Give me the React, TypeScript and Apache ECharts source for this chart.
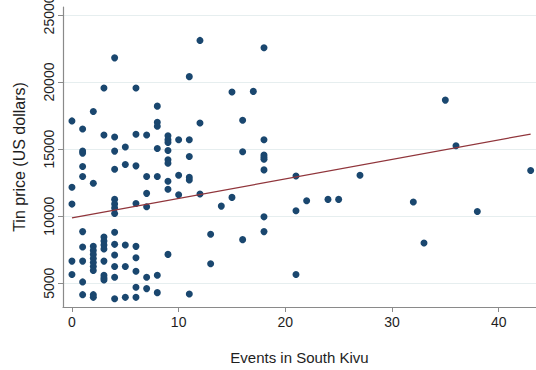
import React, { useEffect, useRef } from "react";
import * as echarts from "echarts";

// Scatter data: events (x) and tin price (y), grouped by event count
const eventsX: number[] = [
  0, 0, 0, 0, 0,
  1, 1, 1, 1, 1, 1, 1, 1, 1, 1,
  2, 2, 2, 2, 2, 2, 2, 2, 2, 2, 2,
  3, 3, 3, 3, 3, 3, 3, 3, 3, 3,
  4, 4, 4, 4, 4, 4, 4, 4, 4, 4, 4, 4, 4, 4,
  5, 5, 5, 5, 5,
  6, 6, 6, 6, 6, 6, 6, 6, 6,
  7, 7, 7, 7, 7, 7,
  8, 8, 8, 8, 8, 8, 8,
  9, 9, 9, 9, 9, 9, 9, 9, 9,
  10, 10, 10,
  11, 11, 11, 11, 11, 11,
  12, 12, 12,
  13, 13,
  14,
  15, 15,
  16, 16, 16,
  17,
  18, 18, 18, 18, 18, 18, 18, 18,
  21, 21, 21,
  22,
  24,
  25,
  27,
  32,
  33,
  35,
  36,
  38,
  43,
];

const tinPrice: number[] = [
  17100, 12150, 10900, 6650, 5650,
  16500, 14850, 14700, 13700, 12950, 8850, 7700, 6650, 5100, 4150,
  17800, 12450, 7750, 7450, 7150, 6850, 6550, 6250, 5950, 4150, 3950,
  19550, 16050, 8450, 8150, 7850, 7550, 6650, 5600, 5400, 5250,
  21800, 15900, 14850, 13500, 11250, 10900, 10600, 10200, 8800, 7900, 7100, 6250, 5450, 3850,
  15150, 13850, 7850, 6250, 3950,
  19550, 16100, 13750, 10950, 7750, 6900, 5900, 4700, 3950,
  16050, 12950, 11700, 10700, 5450, 4600,
  18200, 17000, 16700, 15050, 12950, 5600, 4300,
  16000, 15700, 15500, 14900, 14200, 13950, 12600, 12000, 7150,
  15700, 13050, 11600,
  20400, 15700, 14450, 12900, 12700, 4200,
  23100, 16950, 11650,
  8650, 6450,
  10750,
  19250, 11400,
  17150, 14800, 8250,
  19300,
  22550, 15700, 14550, 14400, 14250, 13450, 9950, 8850,
  13000, 10400, 5650,
  11150,
  11250,
  11250,
  13050,
  11050,
  8000,
  18650,
  15250,
  10350,
  13400,
];

// Fitted line end points
const fitX: number[] = [0, 43];
const fitY: number[] = [9870, 16120];

const xTicks: number[] = [0, 10, 20, 30, 40];
const yTicks: number[] = [5000, 10000, 15000, 20000, 25000];

const FONT = "'Liberation Sans', Arial, sans-serif";

export default function App() {
  const ref = useRef<HTMLDivElement>(null);

  useEffect(() => {
    document.body.style.margin = "0";
    if (!ref.current) return;
    const chart = echarts.init(ref.current, undefined, { renderer: "svg" });
    const points = eventsX.map((x, i) => [x, tinPrice[i]]);
    const fit = fitX.map((x, i) => [x, fitY[i]]);
    chart.setOption({
      animation: false,
      backgroundColor: "#ffffff",
      textStyle: { fontFamily: FONT },
      grid: {
        left: 63,
        right: 0,
        top: 7,
        bottom: 63,
        containLabel: false,
        outerBoundsMode: "none",
      },
      xAxis: {
        type: "value",
        min: -0.84,
        max: 43.5,
        name: "Events in South Kivu",
        nameLocation: "middle",
        nameGap: 43,
        nameTextStyle: { fontSize: 15, color: "#1e1e1e", fontFamily: FONT },
        axisLine: { show: true, onZero: false, lineStyle: { color: "#8a8a8a", width: 1.2 } },
        axisTick: {
          show: true,
          length: 5,
          customValues: xTicks,
          lineStyle: { color: "#8a8a8a" },
        },
        axisLabel: {
          customValues: xTicks,
          fontSize: 14,
          color: "#1e1e1e",
          margin: 8,
          fontFamily: FONT,
          formatter: (v: number) => String(v),
        },
        splitLine: { show: false },
      },
      yAxis: {
        type: "value",
        min: 3230,
        max: 25590,
        name: "Tin price (US dollars)",
        nameLocation: "middle",
        nameGap: 36,
        nameTextStyle: { fontSize: 16, color: "#1e1e1e", fontFamily: FONT },
        axisLine: { show: true, onZero: false, lineStyle: { color: "#8a8a8a", width: 1.2 } },
        axisTick: {
          show: true,
          length: 5,
          customValues: yTicks,
          lineStyle: { color: "#8a8a8a" },
        },
        axisLabel: {
          customValues: yTicks,
          rotate: 90,
          fontSize: 14,
          color: "#1e1e1e",
          margin: 7,
          fontFamily: FONT,
          formatter: (v: number) => String(v),
        },
        splitLine: { show: true, lineStyle: { color: "#e6eeef", width: 1 } },
      },
      series: [
        {
          type: "scatter",
          data: points,
          symbol: "circle",
          symbolSize: 7,
          itemStyle: { color: "#1a476f", opacity: 1 },
          z: 2,
        },
        {
          type: "line",
          data: fit,
          showSymbol: false,
          symbol: "none",
          lineStyle: { color: "#90353b", width: 1.2 },
          z: 3,
        },
      ],
    });
    return () => chart.dispose();
  }, []);

  return <div ref={ref} style={{ width: 536, height: 370 }} />;
}
